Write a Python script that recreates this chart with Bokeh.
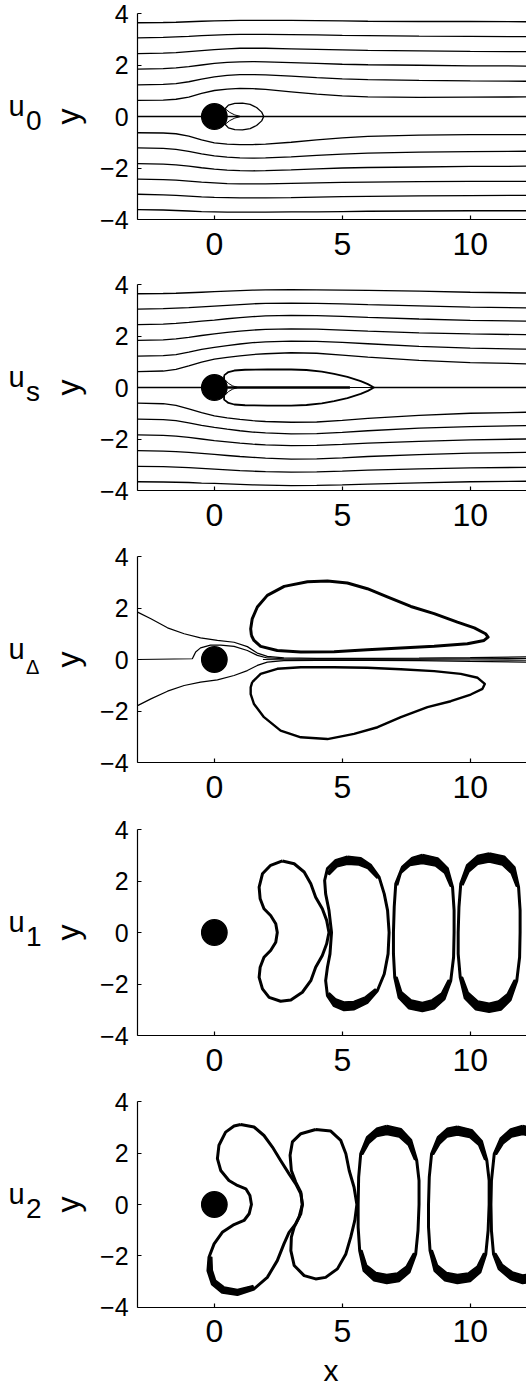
import math
from bokeh.plotting import figure
from bokeh.layouts import column
from bokeh.models import Range1d, Label, FixedTicker
from bokeh.embed import file_html
from bokeh.resources import INLINE

FONT = "Liberation Sans"

# ---------------------------------------------------------------------------
# Streamlines of the base flows u0 and us (sampled along x)
# ---------------------------------------------------------------------------
stream_x = [-3, -2, -1.5, -1, -0.5, 0, 0.5, 1, 1.5, 2, 3, 4, 5, 6, 8, 10, 12.2]

u0_lines = [
    [3.64, 3.65, 3.66, 3.68, 3.70, 3.71, 3.72, 3.73, 3.73, 3.73, 3.73, 3.72, 3.71, 3.70, 3.69, 3.69, 3.68],
    [3.05, 3.07, 3.09, 3.11, 3.14, 3.16, 3.18, 3.19, 3.19, 3.19, 3.18, 3.17, 3.15, 3.14, 3.12, 3.11, 3.10],
    [2.44, 2.46, 2.48, 2.52, 2.56, 2.60, 2.63, 2.65, 2.65, 2.65, 2.63, 2.61, 2.59, 2.57, 2.55, 2.53, 2.52],
    [1.84, 1.86, 1.89, 1.94, 2.00, 2.06, 2.10, 2.12, 2.13, 2.12, 2.09, 2.06, 2.03, 2.01, 1.99, 1.97, 1.96],
    [1.23, 1.25, 1.28, 1.35, 1.45, 1.54, 1.60, 1.63, 1.63, 1.62, 1.57, 1.51, 1.46, 1.43, 1.40, 1.38, 1.37],
    [0.63, 0.64, 0.67, 0.75, 0.90, 1.01, 1.06, 1.09, 1.08, 1.05, 0.96, 0.87, 0.80, 0.76, 0.74, 0.75, 0.76],
    [-0.63, -0.64, -0.67, -0.76, -0.91, -1.02, -1.07, -1.09, -1.09, -1.07, -1.00, -0.91, -0.83, -0.77, -0.72, -0.70, -0.70],
    [-1.22, -1.24, -1.28, -1.35, -1.45, -1.53, -1.58, -1.61, -1.62, -1.61, -1.57, -1.51, -1.46, -1.42, -1.38, -1.36, -1.35],
    [-1.83, -1.85, -1.88, -1.93, -1.99, -2.04, -2.08, -2.10, -2.11, -2.10, -2.07, -2.03, -2.00, -1.98, -1.96, -1.94, -1.93],
    [-2.43, -2.45, -2.47, -2.51, -2.55, -2.58, -2.61, -2.62, -2.62, -2.62, -2.60, -2.58, -2.56, -2.55, -2.53, -2.52, -2.52],
    [-3.02, -3.04, -3.06, -3.09, -3.12, -3.14, -3.15, -3.16, -3.16, -3.16, -3.15, -3.13, -3.11, -3.10, -3.08, -3.07, -3.06],
    [-3.62, -3.63, -3.65, -3.67, -3.69, -3.70, -3.71, -3.71, -3.71, -3.71, -3.70, -3.70, -3.69, -3.68, -3.67, -3.66, -3.66],
]

us_lines = [
    [3.64, 3.65, 3.66, 3.68, 3.70, 3.72, 3.74, 3.76, 3.78, 3.79, 3.80, 3.79, 3.78, 3.77, 3.74, 3.70, 3.67],
    [3.04, 3.06, 3.08, 3.10, 3.13, 3.16, 3.19, 3.22, 3.25, 3.27, 3.28, 3.27, 3.25, 3.22, 3.17, 3.12, 3.09],
    [2.44, 2.46, 2.49, 2.53, 2.58, 2.62, 2.67, 2.71, 2.75, 2.78, 2.80, 2.79, 2.76, 2.72, 2.66, 2.61, 2.58],
    [1.83, 1.85, 1.89, 1.95, 2.02, 2.08, 2.14, 2.19, 2.23, 2.26, 2.28, 2.27, 2.23, 2.19, 2.12, 2.08, 2.05],
    [1.22, 1.24, 1.28, 1.37, 1.48, 1.56, 1.63, 1.69, 1.74, 1.77, 1.80, 1.79, 1.75, 1.70, 1.60, 1.53, 1.49],
    [0.62, 0.64, 0.70, 0.84, 0.99, 1.10, 1.17, 1.23, 1.28, 1.31, 1.35, 1.33, 1.26, 1.18, 1.05, 0.97, 0.92],
    [-0.61, -0.63, -0.69, -0.83, -0.98, -1.10, -1.18, -1.24, -1.29, -1.32, -1.35, -1.34, -1.28, -1.20, -1.08, -1.00, -0.96],
    [-1.23, -1.25, -1.29, -1.37, -1.47, -1.55, -1.62, -1.68, -1.73, -1.76, -1.80, -1.79, -1.74, -1.68, -1.58, -1.52, -1.48],
    [-1.84, -1.86, -1.89, -1.94, -2.00, -2.06, -2.11, -2.16, -2.20, -2.23, -2.26, -2.25, -2.21, -2.16, -2.09, -2.03, -2.00],
    [-2.45, -2.47, -2.49, -2.52, -2.56, -2.60, -2.64, -2.68, -2.71, -2.74, -2.78, -2.77, -2.73, -2.68, -2.61, -2.55, -2.52],
    [-3.06, -3.07, -3.09, -3.11, -3.14, -3.17, -3.20, -3.23, -3.25, -3.27, -3.29, -3.28, -3.25, -3.21, -3.16, -3.12, -3.10],
    [-3.66, -3.67, -3.68, -3.69, -3.71, -3.72, -3.74, -3.76, -3.78, -3.79, -3.81, -3.80, -3.78, -3.75, -3.70, -3.66, -3.64],
]

# Recirculation bubbles behind the cylinder
u0_bubble_x = [0.42, 0.55, 0.80, 1.10, 1.40, 1.65, 1.85, 1.93, 1.85, 1.65, 1.40, 1.10, 0.80, 0.55, 0.42]
u0_bubble_y = [0.30, 0.44, 0.51, 0.52, 0.47, 0.35, 0.17, 0.00, -0.17, -0.35, -0.47, -0.52, -0.51, -0.44, -0.30]
u0_inner_x = [[0.45, 0.60, 0.80, 1.00], [0.45, 0.60, 0.80, 1.00]]
u0_inner_y = [[0.28, 0.16, 0.06, 0.01], [-0.28, -0.16, -0.06, -0.01]]

us_bubble_x = [0.38, 0.55, 0.78, 1.20, 2.08, 3.00, 3.60, 4.20, 4.68, 5.20, 5.72, 6.00, 6.24,
               6.00, 5.72, 5.20, 4.68, 4.20, 3.60, 3.00, 2.08, 1.20, 0.78, 0.55, 0.38]
us_bubble_y = [0.47, 0.60, 0.66, 0.69, 0.70, 0.70, 0.68, 0.62, 0.53, 0.41, 0.25, 0.13, 0.00,
               -0.13, -0.25, -0.41, -0.53, -0.62, -0.68, -0.70, -0.70, -0.69, -0.66, -0.60, -0.47]
us_inner_x = [[0.42, 0.55, 0.72, 0.90], [0.42, 0.55, 0.72, 0.90]]
us_inner_y = [[0.30, 0.16, 0.06, 0.01], [-0.30, -0.16, -0.06, -0.01]]

# ---------------------------------------------------------------------------
# u_Delta: streamlines near the axis and the two closed lobes
# ---------------------------------------------------------------------------
ud_upper_x = [-3.0, -2.48, -1.83, -1.18, -0.54, 0.12, 0.77, 1.29, 1.68, 2.07, 2.72, 4.0, 6.0, 8.0, 10.0, 12.2]
ud_upper_y = [1.84, 1.58, 1.23, 1.00, 0.84, 0.74, 0.67, 0.50, 0.25, 0.12, 0.06, 0.04, 0.04, 0.05, 0.07, 0.10]
ud_bump_x = [-3.0, -0.86, -0.80, -0.73, -0.54, -0.15, 0.25, 0.77, 1.29, 1.68, 2.07, 2.72, 4.0, 6.0, 8.0, 10.0, 12.2]
ud_bump_y = [0.0, 0.03, 0.15, 0.29, 0.45, 0.56, 0.56, 0.51, 0.35, 0.16, 0.06, 0.03, 0.02, 0.02, 0.02, 0.03, 0.04]
ud_lower_x = [-3.0, -2.48, -1.83, -1.18, -0.54, 0.12, 0.77, 1.29, 1.68, 2.07, 2.72, 4.0, 6.0, 8.0, 10.0, 12.2]
ud_lower_y = [-1.79, -1.53, -1.23, -1.01, -0.88, -0.79, -0.62, -0.43, -0.23, -0.10, -0.04, -0.03, -0.03, -0.04, -0.07, -0.10]
ud_axis_x = [1.90, 2.50, 4.0, 6.0, 8.0, 10.0, 12.2]
ud_axis_y = [0.0, -0.01, -0.01, -0.01, -0.01, -0.02, -0.03]

ud_top_x = [1.45, 1.42, 1.48, 1.68, 2.07, 2.73, 3.64, 4.42, 5.20, 5.98, 6.76, 7.68, 8.59, 9.50, 10.16,
            10.60, 10.70, 10.54, 9.89, 8.59, 7.29, 5.98, 4.68, 3.38, 2.46, 1.81, 1.55]
ud_top_y = [0.93, 1.19, 1.58, 2.04, 2.49, 2.84, 3.02, 3.05, 2.97, 2.75, 2.43, 2.06, 1.78, 1.45, 1.23,
            1.00, 0.87, 0.74, 0.61, 0.51, 0.45, 0.38, 0.30, 0.29, 0.35, 0.51, 0.74]
ud_bot_x = [1.48, 1.81, 2.46, 3.38, 4.68, 5.98, 7.29, 8.59, 9.63, 10.29, 10.57, 10.48, 10.02, 9.24,
            8.33, 7.29, 6.38, 5.46, 4.42, 3.38, 2.59, 1.94, 1.55, 1.42, 1.42]
ud_bot_y = [-0.88, -0.56, -0.36, -0.30, -0.30, -0.32, -0.38, -0.45, -0.56, -0.71, -0.95, -1.14, -1.36, -1.62,
            -1.85, -2.24, -2.63, -2.89, -3.09, -3.02, -2.76, -2.24, -1.73, -1.34, -1.08]

# ---------------------------------------------------------------------------
# u1 and u2: closed vortex contours in the wake (outer edge of each band)
# ---------------------------------------------------------------------------
u1_loops = [
    ([2.66, 3.12, 3.51, 3.77, 3.96, 4.22, 4.39, 4.48, 4.39, 4.22, 3.96, 3.77, 3.44, 2.99, 2.59, 2.14,
      1.88, 1.75, 1.79, 1.94, 2.20, 2.40, 2.46, 2.40, 2.20, 1.94, 1.79, 1.75, 1.88, 2.20],
     [2.78, 2.67, 2.35, 1.89, 1.37, 0.92, 0.47, 0.00, -0.44, -0.89, -1.35, -1.87, -2.32, -2.62, -2.67, -2.52,
      -2.19, -1.74, -1.35, -0.96, -0.70, -0.38, 0.00, 0.34, 0.66, 0.92, 1.31, 1.76, 2.28, 2.61]),
    ([5.20, 5.72, 6.11, 6.44, 6.64, 6.77, 6.83, 6.79, 6.64, 6.37, 5.98, 5.46, 5.07, 4.68, 4.42, 4.35,
      4.42, 4.52, 4.58, 4.48, 4.35, 4.31, 4.42, 4.75],
     [2.93, 2.87, 2.61, 2.15, 1.50, 0.86, 0.00, -0.83, -1.61, -2.26, -2.71, -2.97, -3.00, -2.84, -2.45, -1.87,
      -1.35, -0.83, 0.00, 0.86, 1.50, 2.02, 2.48, 2.80]),
    ([8.13, 8.72, 9.11, 9.31, 9.37, 9.37, 9.35, 9.24, 8.98, 8.59, 8.13, 7.61, 7.22, 7.05, 7.00, 7.00,
      7.03, 7.09, 7.35, 7.74],
     [3.00, 2.87, 2.48, 1.76, 0.86, 0.00, -0.96, -1.87, -2.58, -2.93, -3.04, -2.93, -2.52, -1.74, -0.83, 0.00,
      0.99, 1.89, 2.54, 2.89]),
    ([10.74, 11.33, 11.72, 11.89, 11.95, 11.95, 11.93, 11.82, 11.56, 11.20, 10.74, 10.22, 9.80, 9.61, 9.53, 9.53,
      9.56, 9.63, 9.89, 10.29],
     [3.06, 2.93, 2.52, 1.76, 0.86, 0.00, -0.96, -1.87, -2.62, -2.98, -3.07, -2.97, -2.54, -1.74, -0.83, 0.00,
      0.99, 1.89, 2.61, 2.96]),
]

u2_loops = [
    ([1.03, 1.55, 1.94, 2.27, 2.59, 2.92, 3.18, 3.38, 3.44, 3.38, 3.18, 2.92, 2.72, 2.46, 2.07, 1.55, 0.90,
      0.31, -0.08, -0.25, -0.21, -0.01, 0.31, 0.77, 1.16, 1.36, 1.45, 1.39, 1.23, 0.90, 0.57, 0.25, 0.12,
      0.18, 0.44, 0.77],
     [3.11, 3.01, 2.68, 2.23, 1.71, 1.19, 0.80, 0.42, 0.00, -0.36, -0.75, -1.08, -1.53, -2.18, -2.83, -3.28, -3.50,
      -3.41, -3.09, -2.57, -2.05, -1.53, -1.08, -0.78, -0.62, -0.36, 0.00, 0.35, 0.61, 0.74, 0.93, 1.32, 1.78,
      2.30, 2.81, 3.05]),
    ([3.96, 4.55, 4.94, 5.14, 5.27, 5.46, 5.57, 5.49, 5.33, 5.14, 4.81, 4.35, 3.96, 3.51, 3.12, 2.99,
      3.01, 3.12, 3.31, 3.44, 3.38, 3.18, 3.01, 2.96, 3.05, 3.38],
     [2.91, 2.85, 2.49, 1.97, 1.32, 0.67, 0.00, -0.62, -1.27, -1.92, -2.50, -2.83, -2.89, -2.76, -2.37, -1.79,
      -1.27, -0.88, -0.49, 0.00, 0.48, 0.87, 1.32, 1.91, 2.43, 2.75]),
    ([6.74, 7.29, 7.68, 7.91, 8.00, 8.00, 7.96, 7.87, 7.61, 7.22, 6.74, 6.24, 5.85, 5.68, 5.62, 5.62,
      5.64, 5.72, 5.98, 6.35],
     [3.04, 2.91, 2.49, 1.71, 0.93, 0.00, -1.01, -1.92, -2.63, -2.96, -3.04, -2.93, -2.57, -1.79, -0.88, 0.00,
      1.06, 1.97, 2.61, 2.93]),
    ([9.50, 10.05, 10.44, 10.65, 10.74, 10.74, 10.70, 10.61, 10.38, 10.00, 9.50, 9.01, 8.62, 8.43, 8.37, 8.37,
      8.40, 8.49, 8.75, 9.11],
     [3.01, 2.88, 2.46, 1.71, 0.93, 0.00, -1.01, -1.92, -2.63, -2.96, -3.04, -2.93, -2.57, -1.79, -0.88, 0.00,
      1.06, 1.97, 2.61, 2.93]),
    ([12.05, 12.63, 13.02, 13.26, 13.35, 13.26, 12.96, 12.57, 12.05, 11.59, 11.13, 10.91, 10.83, 10.81,
      10.83, 10.94, 11.20, 11.59],
     [3.04, 2.91, 2.49, 1.71, 0.00, -1.66, -2.63, -2.96, -3.04, -2.89, -2.50, -1.92, -1.01, 0.00,
      0.93, 1.97, 2.56, 2.91]),
]

# Dense bundles of contour levels at the top and bottom of the vortices
u1_caps = [
    ([4.42, 4.75, 5.20, 5.72, 6.11, 6.44, 6.35, 6.00, 5.65, 5.20, 4.80, 4.50],
     [2.30, 2.80, 2.93, 2.87, 2.61, 2.15, 2.12, 2.48, 2.62, 2.65, 2.55, 2.25]),
    ([4.42, 4.68, 5.07, 5.46, 5.98, 6.37, 6.28, 5.90, 5.45, 5.07, 4.75, 4.50],
     [-2.45, -2.84, -3.00, -2.97, -2.71, -2.26, -2.20, -2.50, -2.68, -2.70, -2.58, -2.35]),
    ([7.09, 7.35, 7.74, 8.13, 8.72, 9.11, 9.31, 9.22, 9.00, 8.65, 8.13, 7.65, 7.30, 7.17],
     [1.89, 2.54, 2.89, 3.00, 2.87, 2.48, 1.76, 1.80, 2.30, 2.58, 2.68, 2.60, 2.30, 1.85]),
    ([7.05, 7.22, 7.61, 8.13, 8.59, 8.98, 9.24, 9.14, 8.88, 8.50, 8.13, 7.70, 7.32, 7.14],
     [-1.74, -2.52, -2.93, -3.04, -2.93, -2.58, -1.87, -1.85, -2.35, -2.62, -2.72, -2.62, -2.30, -1.74]),
    ([9.63, 9.89, 10.29, 10.74, 11.33, 11.72, 11.89, 11.80, 11.60, 11.25, 10.74, 10.30, 9.95, 9.72],
     [1.89, 2.61, 2.96, 3.06, 2.93, 2.52, 1.76, 1.80, 2.30, 2.62, 2.74, 2.65, 2.35, 1.85]),
    ([9.61, 9.80, 10.22, 10.74, 11.20, 11.56, 11.82, 11.72, 11.45, 11.10, 10.74, 10.30, 9.92, 9.70],
     [-1.74, -2.54, -2.97, -3.07, -2.98, -2.62, -1.87, -1.85, -2.38, -2.66, -2.75, -2.66, -2.32, -1.74]),
]

u2_caps = [
    ([-0.21, -0.25, -0.08, 0.31, 0.90, 1.55, 1.50, 0.90, 0.38, 0.05, -0.08, -0.10],
     [-2.05, -2.57, -3.09, -3.41, -3.50, -3.28, -3.15, -3.30, -3.20, -2.95, -2.55, -2.05]),
    ([5.72, 5.98, 6.35, 6.74, 7.29, 7.68, 7.91, 7.82, 7.58, 7.22, 6.74, 6.35, 6.05, 5.80],
     [1.97, 2.61, 2.93, 3.04, 2.91, 2.49, 1.71, 1.75, 2.30, 2.62, 2.72, 2.64, 2.38, 1.95]),
    ([5.68, 5.85, 6.24, 6.74, 7.22, 7.61, 7.87, 7.78, 7.50, 7.15, 6.74, 6.32, 5.95, 5.77],
     [-1.79, -2.57, -2.93, -3.04, -2.96, -2.63, -1.92, -1.90, -2.40, -2.66, -2.72, -2.64, -2.35, -1.79]),
    ([8.49, 8.75, 9.11, 9.50, 10.05, 10.44, 10.65, 10.56, 10.33, 9.98, 9.50, 9.10, 8.82, 8.57],
     [1.97, 2.61, 2.93, 3.01, 2.88, 2.46, 1.71, 1.75, 2.30, 2.60, 2.70, 2.62, 2.36, 1.95]),
    ([8.43, 8.62, 9.01, 9.50, 10.00, 10.38, 10.61, 10.52, 10.27, 9.92, 9.50, 9.08, 8.72, 8.52],
     [-1.79, -2.57, -2.93, -3.04, -2.96, -2.63, -1.92, -1.90, -2.40, -2.66, -2.72, -2.64, -2.35, -1.79]),
    ([10.94, 11.20, 11.59, 12.05, 12.63, 13.02, 12.90, 12.55, 12.05, 11.62, 11.28, 11.03],
     [1.97, 2.56, 2.91, 3.04, 2.91, 2.49, 2.35, 2.62, 2.72, 2.62, 2.35, 1.95]),
    ([10.91, 11.13, 11.59, 12.05, 12.57, 12.96, 12.85, 12.50, 12.05, 11.65, 11.25, 11.00],
     [-1.92, -2.50, -2.89, -3.04, -2.96, -2.63, -2.50, -2.68, -2.74, -2.62, -2.32, -1.90]),
]

CYL_R = 0.5
X_MIN, X_MAX = -3.0, 12.2      # extent of the drawn axes
Y_MIN, Y_MAX = -4.0, 4.0
x_ticks = [0, 5, 10]
y_ticks = [-4, -2, 0, 2, 4]
y_tick_text = {-4: "\u22124", -2: "\u22122", 0: "0", 2: "2", 4: "4"}

# Visible window of every panel: the left margin holds the panel names
VIEW_X = (-8.358, 12.2)


def closed(xs, ys):
    return list(xs) + [xs[0]], list(ys) + [ys[0]]


def make_panel(height, y_lo, y_hi, sub, sub_size="28px", sub_y=-0.167):
    p = figure(width=526, height=height, title=None,
               x_range=Range1d(*VIEW_X), y_range=Range1d(y_lo, y_hi),
               output_backend="svg", toolbar_location=None,
               min_border=0, min_border_left=0, min_border_right=0,
               min_border_top=0, min_border_bottom=0)
    p.outline_line_color = None
    p.grid.visible = False
    p.background_fill_color = "white"
    p.border_fill_color = "white"

    xa, ya = p.xaxis[0], p.yaxis[0]
    xa.fixed_location = Y_MIN
    ya.fixed_location = X_MIN
    xa.bounds = (X_MIN, X_MAX)
    ya.bounds = (Y_MIN, Y_MAX)
    xa.ticker = FixedTicker(ticks=x_ticks)
    ya.ticker = FixedTicker(ticks=y_ticks)
    ya.major_label_overrides = y_tick_text
    for ax in (xa, ya):
        ax.axis_line_width = 1.2
        ax.axis_line_color = "black"
        ax.major_tick_line_color = "black"
        ax.major_tick_line_width = 1.2
        ax.major_tick_in = 4
        ax.major_tick_out = 0
        ax.minor_tick_in = 0
        ax.minor_tick_out = 0
        ax.major_label_text_font = FONT
        ax.major_label_text_color = "black"
    xa.major_label_text_font_size = "32px"
    xa.major_label_standoff = 13
    ya.major_label_text_font_size = "25px"
    ya.major_label_standoff = 9

    # panel name (u with subscript) and the rotated axis name
    p.add_layout(Label(x=-8.045, y=0.427, text="u", text_font=FONT, text_font_size="29px",
                       text_color="black", text_baseline="middle"))
    p.add_layout(Label(x=-7.361, y=sub_y, text=sub, text_font=FONT, text_font_size=sub_size,
                       text_color="black", text_baseline="middle"))
    p.add_layout(Label(x=-5.72, y=0.0, text="y", angle=math.pi / 2, text_font=FONT,
                       text_font_size="32px", text_color="black", text_align="center",
                       text_baseline="middle"))
    return p


def add_cylinder(p):
    p.circle(x=[0], y=[0], radius=CYL_R, fill_color="black", line_color="black", line_width=1.2)


def add_loops(p, loops, caps):
    for i, (lx, ly) in enumerate(loops):
        cx, cy = closed(lx, ly)
        p.line(cx, cy, line_color="black", line_width=3.0, line_join="round")
    p.patches([c[0] for c in caps], [c[1] for c in caps], fill_color="black",
              line_color="black", line_width=1.5, line_join="round")


# --- u0 ---
p1 = make_panel(265, -5.786, 4.505, "0")
p1.multi_line([stream_x] * len(u0_lines), u0_lines, line_color="black", line_width=1.3)
p1.multi_line([[-3, -0.5], [0.5, 12.2]], [[0, 0], [0, 0]], line_color="black", line_width=1.3)
bx, by = closed(u0_bubble_x, u0_bubble_y)
p1.line(bx, by, line_color="black", line_width=1.3)
p1.multi_line(u0_inner_x, u0_inner_y, line_color="black", line_width=1.0)
add_cylinder(p1)

# --- us ---
p2 = make_panel(272, -5.825, 4.738, "s")
p2.multi_line([stream_x] * len(us_lines), us_lines, line_color="black", line_width=1.3)
p2.multi_line([[-3, -0.5], [6.24, 12.2]], [[0, 0], [0, 0]], line_color="black", line_width=1.3)
p2.line([0.5, 5.3], [0, 0], line_color="black", line_width=2.6)
p2.line([5.3, 6.24], [0, 0], line_color="black", line_width=1.2)
bx, by = closed(us_bubble_x, us_bubble_y)
p2.line(bx, by, line_color="black", line_width=1.8)
p2.multi_line(us_inner_x, us_inner_y, line_color="black", line_width=1.0)
add_cylinder(p2)

# --- u_Delta ---
p3 = make_panel(273, -5.864, 4.738, "\u0394", sub_size="20px", sub_y=-0.276)
p3.multi_line([ud_upper_x, ud_bump_x, ud_lower_x, ud_axis_x],
              [ud_upper_y, ud_bump_y, ud_lower_y, ud_axis_y], line_color="black", line_width=1.2)
tx, ty = closed(ud_top_x, ud_top_y)
p3.line(tx, ty, line_color="black", line_width=3.0, line_join="round")
bx, by = closed(ud_bot_x, ud_bot_y)
p3.line(bx, by, line_color="black", line_width=2.4, line_join="round")
add_cylinder(p3)

# --- u1 ---
p4 = make_panel(272, -5.825, 4.738, "1")
add_loops(p4, u1_loops, u1_caps)
add_cylinder(p4)

# --- u2 ---
p5 = make_panel(305, -7.107, 4.738, "2")
add_loops(p5, u2_loops, u2_caps)
add_cylinder(p5)
p5.add_layout(Label(x=4.559, y=-6.446, text="x", text_font=FONT, text_font_size="30px",
                    text_color="black", text_align="center", text_baseline="middle"))

layout = column(p1, p2, p3, p4, p5, spacing=0)
open("out.html", "w").write(file_html(layout, INLINE))
